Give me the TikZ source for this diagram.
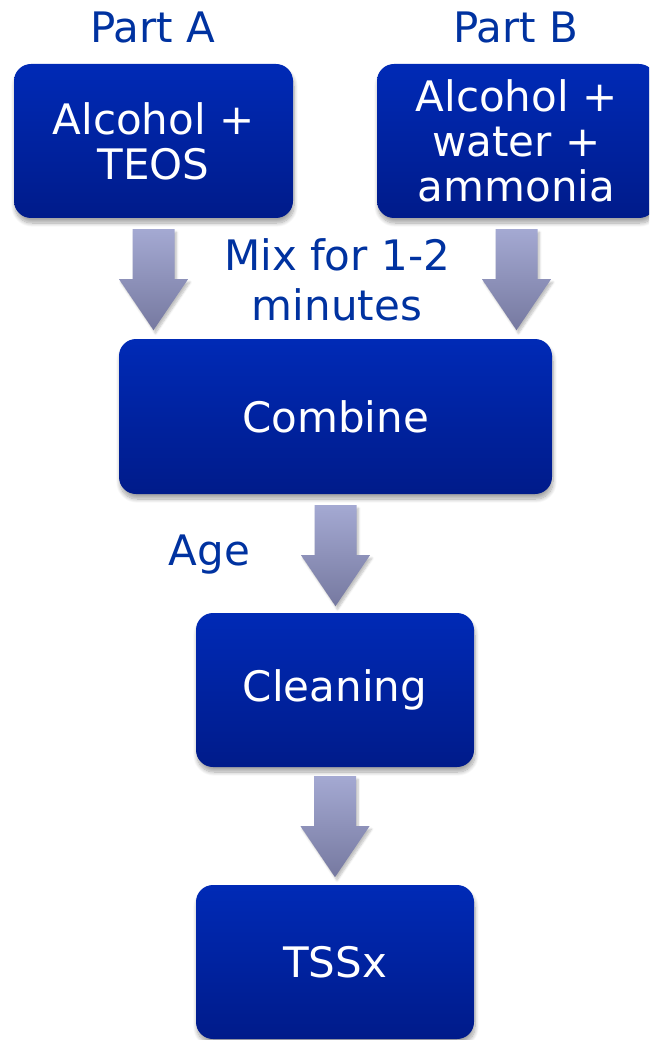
\documentclass[tikz,border=0pt]{standalone}
\usepackage{fontspec}
\setmainfont{DejaVu Sans}
\usetikzlibrary{calc,shadows.blur}
\definecolor{boxtop}{RGB}{0,42,182}
\definecolor{boxbot}{RGB}{0,27,138}
\definecolor{arrtop}{RGB}{164,169,210}
\definecolor{arrbot}{RGB}{118,121,160}
\definecolor{labelblue}{RGB}{0,50,160}
\begin{document}
\begin{tikzpicture}[x=1pt,y=1pt,
  stepbox/.style={rounded corners=17pt, top color=boxtop, bottom color=boxbot,
    text=white, align=center, font=\fontsize{42}{45}\selectfont, inner sep=0pt,
    blur shadow={shadow xshift=1pt, shadow yshift=-5pt, shadow opacity=35, shadow blur steps=10, shadow blur radius=4pt}},
  labeltext/.style={text=labelblue, align=center, font=\fontsize{42}{50}\selectfont, inner sep=0pt},
  fatarrow/.pic={
    \path[top color=arrtop, bottom color=arrbot,
      blur shadow={shadow xshift=2pt, shadow yshift=-3pt, shadow opacity=25, shadow blur steps=6}]
      (-21,0) -- (21,0) -- (21,-50) -- (34.5,-50) -- (0,-101) -- (-34.5,-50) -- (-21,-50) -- cycle;
  }]
\useasboundingbox (0,0) rectangle (649,-1040);
\clip (0,0) rectangle (649,-1040);

\node[stepbox, minimum width=279pt, minimum height=154pt] (A) at (153.5,-141) {Alcohol +\\TEOS};
\node[stepbox, minimum width=279pt, minimum height=154pt] (B) at (516.5,-141) {Alcohol +\\water +\\ammonia};
\node[stepbox, minimum width=433pt, minimum height=155pt] (C) at (335.5,-416.5) {Combine};
\node[stepbox, minimum width=278pt, minimum height=154pt] (D) at (335,-690) {Cleaning};
\node[stepbox, minimum width=278pt, minimum height=154pt] (E) at (335,-962) {TSSx};

\node[labeltext, anchor=base] (pa) at (153,-43) {Part A};
\node[labeltext, anchor=base] (pb) at (516,-43) {Part B};
\node[labeltext, anchor=base] (mix) at (337,-320) {Mix for 1-2\\minutes};
\node[labeltext, anchor=base] (age) at (209.5,-565) {Age};

\pic at ($(A.south)+(0,-11)$) {fatarrow};
\pic at ($(B.south)+(0,-11)$) {fatarrow};
\pic at ($(C.south)+(0,-11)$) {fatarrow};
\pic at ($(D.south)+(0,-9)$) {fatarrow};
\end{tikzpicture}
\end{document}
